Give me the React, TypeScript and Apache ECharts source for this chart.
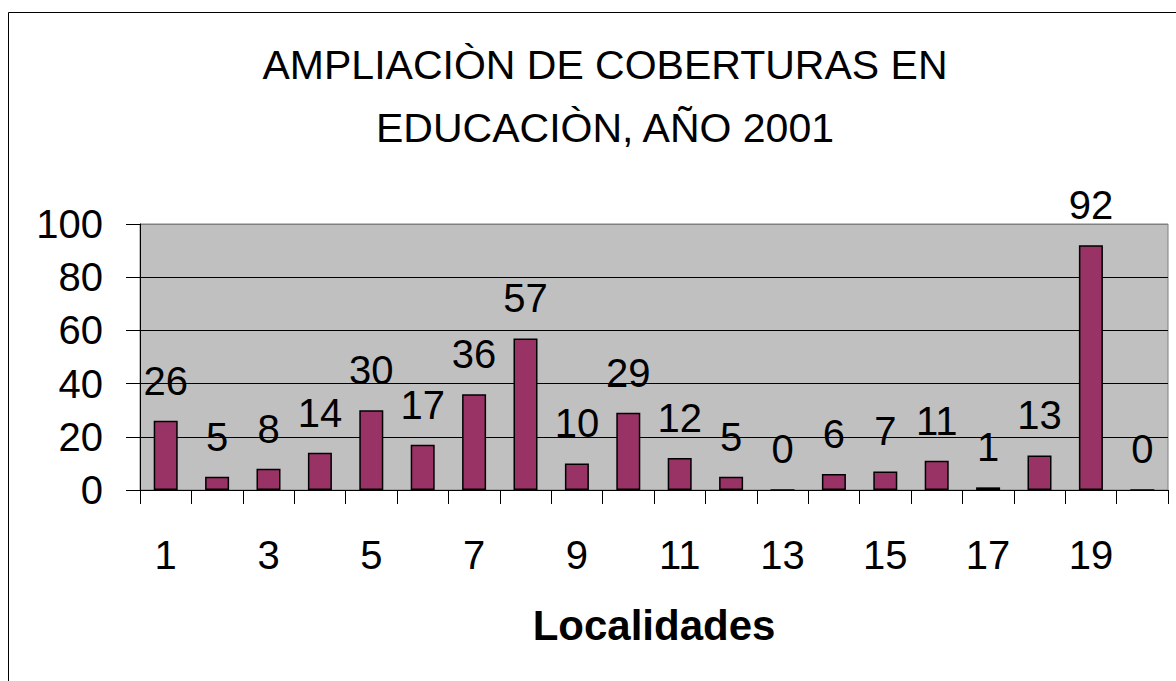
import React, { useEffect, useRef } from "react";
import * as echarts from "echarts";

const categories = ["1","2","3","4","5","6","7","8","9","10","11","12","13","14","15","16","17","18","19","20"];
const values = [26, 5, 8, 14, 30, 17, 36, 57, 10, 29, 12, 5, 0, 6, 7, 11, 1, 13, 92, 0];
const titleText = "AMPLIACIÒN DE COBERTURAS EN\nEDUCACIÒN, AÑO 2001";
const xAxisName = "Localidades";

export default function App() {
  const ref = useRef<HTMLDivElement>(null);
  useEffect(() => {
    if (!ref.current) return;
    const chart = echarts.init(ref.current, undefined, { renderer: "svg" });
    const font = "Liberation Sans, Arial, sans-serif";
    chart.setOption({
      animation: false,
      backgroundColor: "#ffffff",
      textStyle: { fontFamily: font },
      title: {
        text: titleText,
        left: 600,
        top: 28,
        textAlign: "center",
        textStyle: { fontFamily: font, fontSize: 41, fontWeight: "normal", color: "#000", lineHeight: 63 },
      },
      graphic: [
        {
          type: "rect",
          shape: { x: 8.5, y: 12.5, width: 1300, height: 800 },
          style: { fill: "none", stroke: "#000", lineWidth: 1 },
          z: 100,
          silent: true,
        },
      ],
      grid: {
        left: 140,
        right: 8,
        top: 224,
        bottom: 191,
        show: true,
        backgroundColor: "#c0c0c0",
        borderColor: "#808080",
        borderWidth: 1,
      },
      xAxis: {
        type: "category",
        data: categories,
        name: xAxisName,
        nameLocation: "middle",
        nameGap: 114,
        nameTextStyle: { fontFamily: font, fontSize: 42, fontWeight: "bold", color: "#000" },
        axisLine: { show: true, lineStyle: { color: "#000", width: 1 } },
        axisTick: { show: true, interval: 0, length: 14, lineStyle: { color: "#000" } },
        axisLabel: { interval: 1, margin: 45, fontFamily: font, fontSize: 40, color: "#000" },
        splitLine: { show: false },
      },
      yAxis: {
        type: "value",
        min: 0,
        max: 100,
        interval: 20,
        axisLine: { show: true, lineStyle: { color: "#000", width: 1 } },
        axisTick: { show: true, length: 14, lineStyle: { color: "#000" } },
        axisLabel: { margin: 37, fontFamily: font, fontSize: 40, color: "#000" },
        splitLine: {
          show: true,
          lineStyle: { color: ["#000", "#000", "#000", "#000", "#000", "#808080"], width: 1 },
        },
      },
      series: [
        {
          type: "bar",
          data: values,
          barWidth: 24,
          itemStyle: { color: "#993366", borderColor: "#000", borderWidth: 1.5 },
          label: {
            show: true,
            position: "top",
            distance: 20,
            fontFamily: font,
            fontSize: 40,
            color: "#000",
          },
        },
      ],
    });
    return () => chart.dispose();
  }, []);
  return (
    <div
      ref={ref}
      style={{ position: "absolute", left: 0, top: 0, width: 1176, height: 681 }}
    />
  );
}
